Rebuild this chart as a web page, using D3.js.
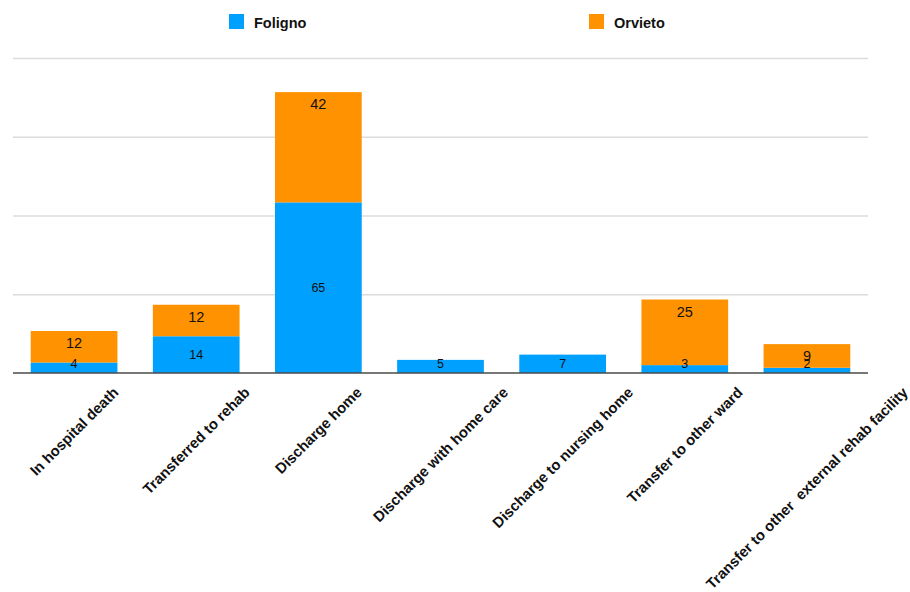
<!DOCTYPE html>
<html>
<head>
<meta charset="utf-8">
<script src="https://cdn.jsdelivr.net/npm/d3@7"></script>
<style>
  html, body { margin: 0; padding: 0; background: #fff; }
  svg { display: block; font-family: "Liberation Sans", Arial, Helvetica, sans-serif; }
</style>
</head>
<body>
<svg id="chart" width="910" height="592"></svg>
<script>
// Discharge outcomes by hospital
const categories = [
  "In hospital death",
  "Transferred to rehab",
  "Discharge home",
  "Discharge with home care",
  "Discharge to nursing home",
  "Transfer to other ward",
  "Transfer to other\u00a0 external rehab facility"
];
const foligno = [4, 14, 65, 5, 7, 3, 2];
const orvieto = [12, 12, 42, 0, 0, 25, 9];
const seriesNames = ["Foligno", "Orvieto"];
const seriesColors = ["#00a0fe", "#ff9200"];
const gridTicks = [30, 60, 90, 120];

const svg = d3.select("#chart");
const plotLeft = 13, plotRight = 868, plotTop = 58, plotBottom = 373;

const x = d3.scaleBand().domain(categories).range([plotLeft, plotRight]).paddingInner(0.29).paddingOuter(0.145);
const y = d3.scaleLinear().domain([0, 120]).range([plotBottom, plotTop]);

// gridlines
svg.append("g")
  .attr("transform", `translate(${plotLeft},0)`)
  .call(d3.axisLeft(y).tickValues(gridTicks).tickSize(-(plotRight - plotLeft)).tickFormat(""))
  .call(g => g.select(".domain").remove())
  .call(g => g.selectAll("line").attr("stroke", "#dcdcdc").attr("stroke-width", 1.3));

// stacked data
const rows = categories.map((c, i) => ({ cat: c, Foligno: foligno[i], Orvieto: orvieto[i] }));
const stacked = d3.stack().keys(seriesNames)(rows);

const layers = svg.append("g").selectAll("g")
  .data(stacked).join("g")
  .attr("fill", (d, i) => seriesColors[i]);

layers.selectAll("rect")
  .data(d => d.filter(s => s[1] - s[0] > 0))
  .join("rect")
  .attr("x", d => x(d.data.cat))
  .attr("width", x.bandwidth())
  .attr("y", d => y(d[1]))
  .attr("height", d => y(d[0]) - y(d[1]));

// baseline
svg.append("line")
  .attr("x1", plotLeft).attr("x2", plotRight)
  .attr("y1", y(0)).attr("y2", y(0))
  .attr("stroke", "#4a4a4a").attr("stroke-width", 1.5);

// value labels: Foligno in middle of its segment, Orvieto near the top of its segment
const labels = svg.append("g").attr("fill", "#111").attr("text-anchor", "middle");
stacked[0].forEach(s => {
  const v = s[1] - s[0];
  if (v <= 0) return;
  const cy = Math.min((y(s[0]) + y(s[1])) / 2, y(0) - 10);
  labels.append("text")
    .attr("x", x(s.data.cat) + x.bandwidth() / 2)
    .attr("y", cy)
    .attr("dy", "0.36em")
    .attr("font-size", 12.5)
    .text(v);
});
stacked[1].forEach(s => {
  const v = s[1] - s[0];
  if (v <= 0) return;
  labels.append("text")
    .attr("x", x(s.data.cat) + x.bandwidth() / 2)
    .attr("y", y(s[1]) + 12)
    .attr("dy", "0.36em")
    .attr("font-size", 14.5)
    .text(v);
});

// rotated category labels, top of rotated box aligned below the axis
const s45 = Math.SQRT1_2;
const labelSize = 14.8;
const axisLabels = svg.append("g")
  .attr("font-size", labelSize).attr("font-weight", "bold").attr("fill", "#111");
categories.forEach(c => {
  const t = axisLabels.append("text")
    .attr("text-anchor", "middle")
    .attr("dy", "0.35em")
    .text(c);
  const L = t.node().getComputedTextLength();
  const h = 0.72 * labelSize;
  const cx = x(c) + x.bandwidth() / 2;
  const cy = 386 + (L / 2) * s45 + (h / 2) * s45;
  t.attr("transform", `translate(${cx},${cy}) rotate(-45)`);
});

// legend
const legendX = [229, 589];
const legend = svg.append("g");
seriesNames.forEach((n, i) => {
  legend.append("rect")
    .attr("x", legendX[i]).attr("y", 14)
    .attr("width", 15).attr("height", 15)
    .attr("fill", seriesColors[i]);
  legend.append("text")
    .attr("x", legendX[i] + 25).attr("y", 27.5)
    .attr("font-size", 14.5).attr("font-weight", "bold").attr("fill", "#111")
    .text(n);
});
</script>
</body>
</html>
